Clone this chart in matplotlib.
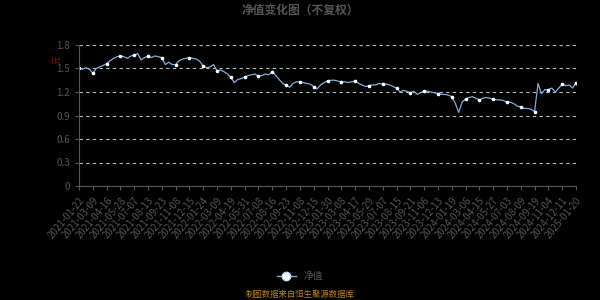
import numpy as np
import matplotlib.pyplot as plt
from matplotlib.lines import Line2D

plt.rcParams['font.family'] = ['Noto Sans CJK SC', 'DejaVu Sans']

# net value, evenly sampled (4 points per tick interval)
nav = [
    1.51, 1.49, 1.51, 1.49, 1.44, 1.50, 1.52, 1.54, 1.56, 1.60,
    1.63, 1.65, 1.66, 1.65, 1.63, 1.66, 1.67, 1.69, 1.61, 1.64,
    1.66, 1.64, 1.66, 1.65, 1.64, 1.55, 1.58, 1.55, 1.55, 1.60,
    1.62, 1.63, 1.64, 1.63, 1.62, 1.59, 1.53, 1.51, 1.52, 1.55,
    1.47, 1.48, 1.46, 1.43, 1.39, 1.32, 1.36, 1.37, 1.39, 1.41,
    1.42, 1.43, 1.40, 1.41, 1.43, 1.42, 1.46, 1.41, 1.36, 1.31,
    1.29, 1.26, 1.31, 1.33, 1.33, 1.32, 1.31, 1.30, 1.27, 1.24,
    1.29, 1.32, 1.34, 1.35, 1.35, 1.34, 1.33, 1.33, 1.32, 1.33,
    1.34, 1.31, 1.29, 1.27, 1.28, 1.29, 1.29, 1.31, 1.30, 1.30,
    1.29, 1.27, 1.25, 1.20, 1.22, 1.21, 1.19, 1.21, 1.17, 1.19,
    1.21, 1.21, 1.20, 1.19, 1.18, 1.17, 1.17, 1.16, 1.14, 1.06,
    0.94, 1.07, 1.11, 1.13, 1.14, 1.12, 1.10, 1.12, 1.13, 1.12,
    1.11, 1.10, 1.10, 1.09, 1.07, 1.07, 1.05, 1.02, 1.01, 0.99,
    0.99, 0.98, 0.95, 1.31, 1.18, 1.23, 1.23, 1.25, 1.20, 1.25,
    1.30, 1.28, 1.29, 1.25, 1.32,
]

tick_dates = [
    "2021-01-22", "2021-03-09", "2021-04-16", "2021-05-28", "2021-07-07",
    "2021-08-13", "2021-09-23", "2021-11-08", "2021-12-15", "2022-01-24",
    "2022-03-09", "2022-04-19", "2022-05-31", "2022-07-08", "2022-08-16",
    "2022-09-23", "2022-11-08", "2022-12-15", "2023-01-30", "2023-03-08",
    "2023-04-17", "2023-05-29", "2023-07-07", "2023-08-15", "2023-09-21",
    "2023-11-06", "2023-12-13", "2024-01-19", "2024-03-06", "2024-04-15",
    "2024-05-27", "2024-07-03", "2024-08-09", "2024-09-19", "2024-11-04",
    "2024-12-11", "2025-01-20",
]

step = 4
x = np.arange(len(nav))

fig = plt.figure(figsize=(6, 3), dpi=100, facecolor='black')
ax = fig.add_axes([0.1317, 0.38, 0.8283, 0.47], facecolor='black')

ax.plot(x, nav, color='#86acdb', lw=0.9, marker='o', markersize=1.6,
        markerfacecolor='white', markeredgecolor='white', markevery=step)

ax.set_xlim(0, len(nav) - 1)
ax.set_ylim(0, 1.8)
ax.set_yticks(np.arange(0, 1.81, 0.3))
ax.set_yticklabels(['0', '0.3', '0.6', '0.9', '1.2', '1.5', '1.8'])
ax.set_xticks(np.arange(0, len(nav), step))
ax.set_xticklabels(tick_dates, rotation=50, ha='right', rotation_mode='anchor')

ax.yaxis.grid(True, color='#bbbbbb', ls=(0, (3, 3)), lw=0.8)
for s in ['top', 'right']:
    ax.spines[s].set_visible(False)
ax.spines['left'].set_color('#555555')
ax.spines['bottom'].set_color('#555555')
ax.tick_params(axis='both', colors='#555555', labelcolor='#555555', labelsize=7, length=3)

fig.text(0.5, 0.965, '净值变化图（不复权）', ha='center', va='center',
         color='#555555', fontsize=8.5, fontweight='bold')
fig.text(0.095, 0.80, '元', ha='center', va='center', color='#aa0000',
         fontsize=6, rotation=90)

leg_handle = Line2D([], [], color='#86acdb', lw=1, marker='o', markersize=6,
                    markerfacecolor='white', markeredgecolor='#cfe0f5')
fig.legend([leg_handle], ['净值'], loc='center', bbox_to_anchor=(0.5, 0.08),
           frameon=False, labelcolor='#555555', fontsize=7, handlelength=2.0)

fig.text(0.5, 0.018, '制图数据来自恒生聚源数据库', ha='center', va='center',
         color='#b8860b', fontsize=6)

fig.savefig('out.png', dpi=100, facecolor='black')
